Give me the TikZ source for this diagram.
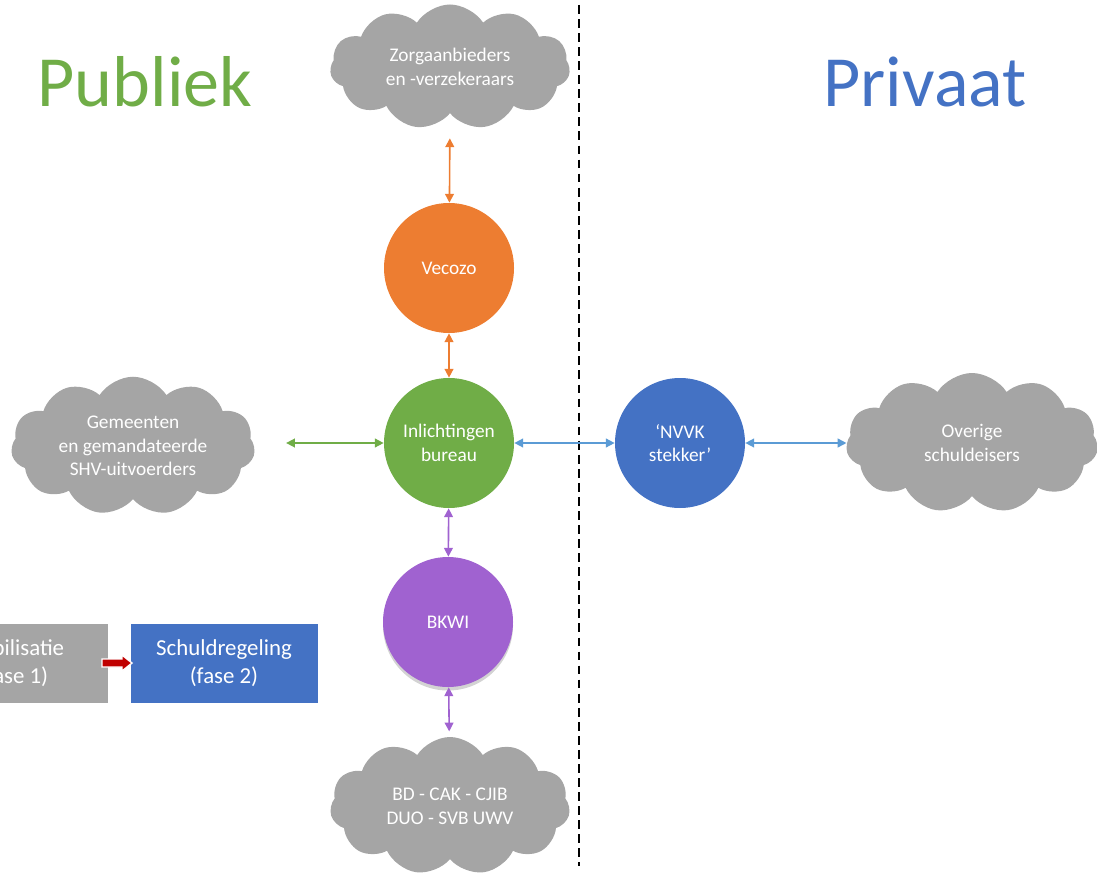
\documentclass[tikz,border=0pt]{standalone}
\usepackage{fontspec}
\setmainfont{Carlito}
\usetikzlibrary{shapes.symbols,arrows.meta,shadows}
\definecolor{cgreen}{HTML}{70AD47}
\definecolor{corange}{HTML}{ED7D31}
\definecolor{cblue}{HTML}{4472C4}
\definecolor{clblue}{HTML}{5B9BD5}
\definecolor{cpurple}{HTML}{A062D0}
\definecolor{cgray}{HTML}{A5A5A5}
\definecolor{cred}{HTML}{C00000}
\tikzset{
  circ/.style={circle, minimum size=130*0.02cm, inner sep=0pt, text=white, align=center, font=\fontsize{11}{13.5}\selectfont},
  wolk/.style={cloud, cloud puffs=11, cloud puff arc=115, aspect=1.9, fill=cgray, draw=none, text=white, align=center, inner sep=0pt, font=\fontsize{11}{13.5}\selectfont},
  conn/.style={line width=0.9pt, {Triangle[length=5pt,width=5pt]}-{Triangle[length=5pt,width=5pt]}},
  fasebox/.style={rectangle, minimum width=187*0.02cm, minimum height=79*0.02cm, text=white, align=center, font=\fontsize{13}{16}\selectfont},
  titel/.style={font=\fontsize{41}{48}\selectfont}
}
\begin{document}
\begin{tikzpicture}[x=0.02cm, y=-0.02cm]
\useasboundingbox (0,0) rectangle (1097,881);
\clip (0,0) rectangle (1097,881);
% titles
\node[titel, text=cgreen] (pub) at (145,82) {Publiek};
\node[titel, text=cblue] (priv) at (925,82) {Privaat};
% divider
\coordinate (dtop) at (579,5);
\coordinate (dbot) at (579,866);
\draw[line width=1pt, dash pattern=on 5pt off 3pt] (dtop) -- (dbot);
% clouds
\node[wolk, minimum width=240*0.02cm, minimum height=125*0.02cm] (ctop) at (450,67) {Zorgaanbieders\\en -verzekeraars};
\node[wolk, minimum width=244*0.02cm, minimum height=126*0.02cm] (cleft) at (133,446) {Gemeenten\\en gemandateerde\\SHV-uitvoerders};
\node[wolk, minimum width=252*0.02cm, minimum height=140*0.02cm] (cright) at (972,443) {Overige\\schuldeisers};
\node[wolk, minimum width=240*0.02cm, minimum height=138*0.02cm] (cbot) at (450,806) {BD - CAK - CJIB\\DUO - SVB UWV};
% circles
\node[circ, fill=corange] (vec) at (449,268) {Vecozo};
\node[circ, fill=cgreen] (ib) at (449,443) {Inlichtingen\\bureau};
\node[circ, fill=cpurple, drop shadow={shadow xshift=0pt, shadow yshift=-2pt, opacity=0.35}] (bkwi) at (448,622) {BKWI};
\node[circ, fill=cblue] (nvvk) at (680,443) {‘NVVK\\stekker’};
% phase boxes
\node[fasebox, fill=cgray] (f1) at (14,663) {Stabilisatie\\(fase 1)};
\node[fasebox, fill=cblue] (f2) at (224,663) {Schuldregeling\\(fase 2)};
% red block arrow between the boxes
\filldraw[fill=cred, draw=white, line width=0.8pt, line join=miter]
  (102,659) -- (122,659) -- (122,655) -- (132,663) -- (122,671) -- (122,667) -- (102,667) -- cycle;
% connectors
\draw[conn, draw=corange, color=corange, shorten <=14pt] (ctop.south) -- (vec);
\draw[conn, draw=corange, color=corange] (vec) -- (ib);
\draw[conn, draw=cgreen, color=cgreen, shorten <=18pt] (cleft.east |- ib) -- (ib);
\draw[conn, draw=clblue, color=clblue] (ib) -- (nvvk);
\draw[conn, draw=clblue, color=clblue] (nvvk) -- (cright);
\draw[conn, draw=cpurple, color=cpurple] (ib) -- (bkwi);
\draw[conn, draw=cpurple, color=cpurple, shorten >=3pt] (bkwi) -- (cbot);
\end{tikzpicture}
\end{document}
